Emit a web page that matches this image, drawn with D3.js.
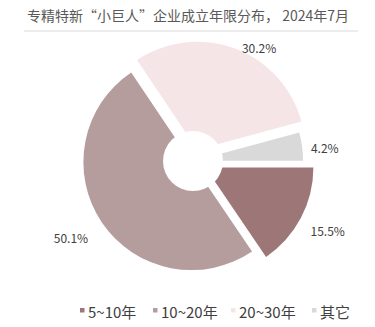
<!DOCTYPE html>
<html><head><meta charset="utf-8">
<script src="https://cdn.jsdelivr.net/npm/d3@7"></script>
<style>
html,body{margin:0;padding:0;background:#fff;}
svg{display:block;font-family:"Noto Sans CJK SC","Noto Sans",sans-serif;}
</style></head>
<body>
<svg id="c" width="375" height="327"></svg>
<script>
// ---- data ----
const categories = ["5~10年", "10~20年", "20~30年", "其它"];
const values = [15.5, 50.1, 30.2, 4.2];
const valueLabels = ["15.5%", "50.1%", "30.2%", "4.2%"];
const title = "专精特新“小巨人”企业成立年限分布， 2024年7月";

// ---- style ----
const colors = ["#9d7778", "#b59d9e", "#f6e5e7", "#d9d9d9"];
const explode = [14, 2, 12, 2];
const labelNudge = [[11, 4], [-6, -2], [17, 18], [-7, 5]];
const cx = 193, cy = 161, R = 108, holeR = 30, labelR = 140;

const svg = d3.select("#c");

svg.append("text").attr("x", 27).attr("y", 15)
  .attr("dominant-baseline", "central")
  .attr("font-size", 14).attr("fill", "#595959").text(title);
svg.append("line").attr("x1", 24).attr("x2", 358).attr("y1", 31).attr("y2", 31)
  .attr("stroke", "#d9d9d9").attr("stroke-width", 1);

const pie = d3.pie().sort(null).startAngle(Math.PI / 2).endAngle(Math.PI / 2 + 2 * Math.PI);
const arcs = pie(values);
const arc = d3.arc().innerRadius(0).outerRadius(R);

const g = svg.append("g").attr("transform", `translate(${cx},${cy})`);
g.selectAll("path.slice").data(arcs).join("path")
  .attr("class", "slice")
  .attr("fill", (d, i) => colors[i])
  .attr("d", arc)
  .attr("transform", (d, i) => {
    const m = (d.startAngle + d.endAngle) / 2;
    return `translate(${Math.sin(m) * explode[i]},${-Math.cos(m) * explode[i]})`;
  });
g.append("circle").attr("r", holeR).attr("fill", "#fff");

g.selectAll("text.lbl").data(arcs).join("text")
  .attr("class", "lbl")
  .attr("x", (d, i) => Math.sin((d.startAngle + d.endAngle) / 2) * labelR + labelNudge[i][0])
  .attr("y", (d, i) => -Math.cos((d.startAngle + d.endAngle) / 2) * labelR + labelNudge[i][1])
  .attr("text-anchor", "middle").attr("dominant-baseline", "central")
  .attr("font-size", 12).attr("fill", "#404040")
  .text((d, i) => valueLabels[i]);

// legend
const legX = [80, 153, 231, 312];
const lg = svg.append("g");
categories.forEach((c, i) => {
  lg.append("rect").attr("x", legX[i]).attr("y", 308).attr("width", 4.5).attr("height", 4.5)
    .attr("fill", colors[i]);
  lg.append("text").attr("x", legX[i] + 8).attr("y", 311)
    .attr("dominant-baseline", "central").attr("font-size", 15).attr("fill", "#404040").text(c);
});
</script>
</body></html>
